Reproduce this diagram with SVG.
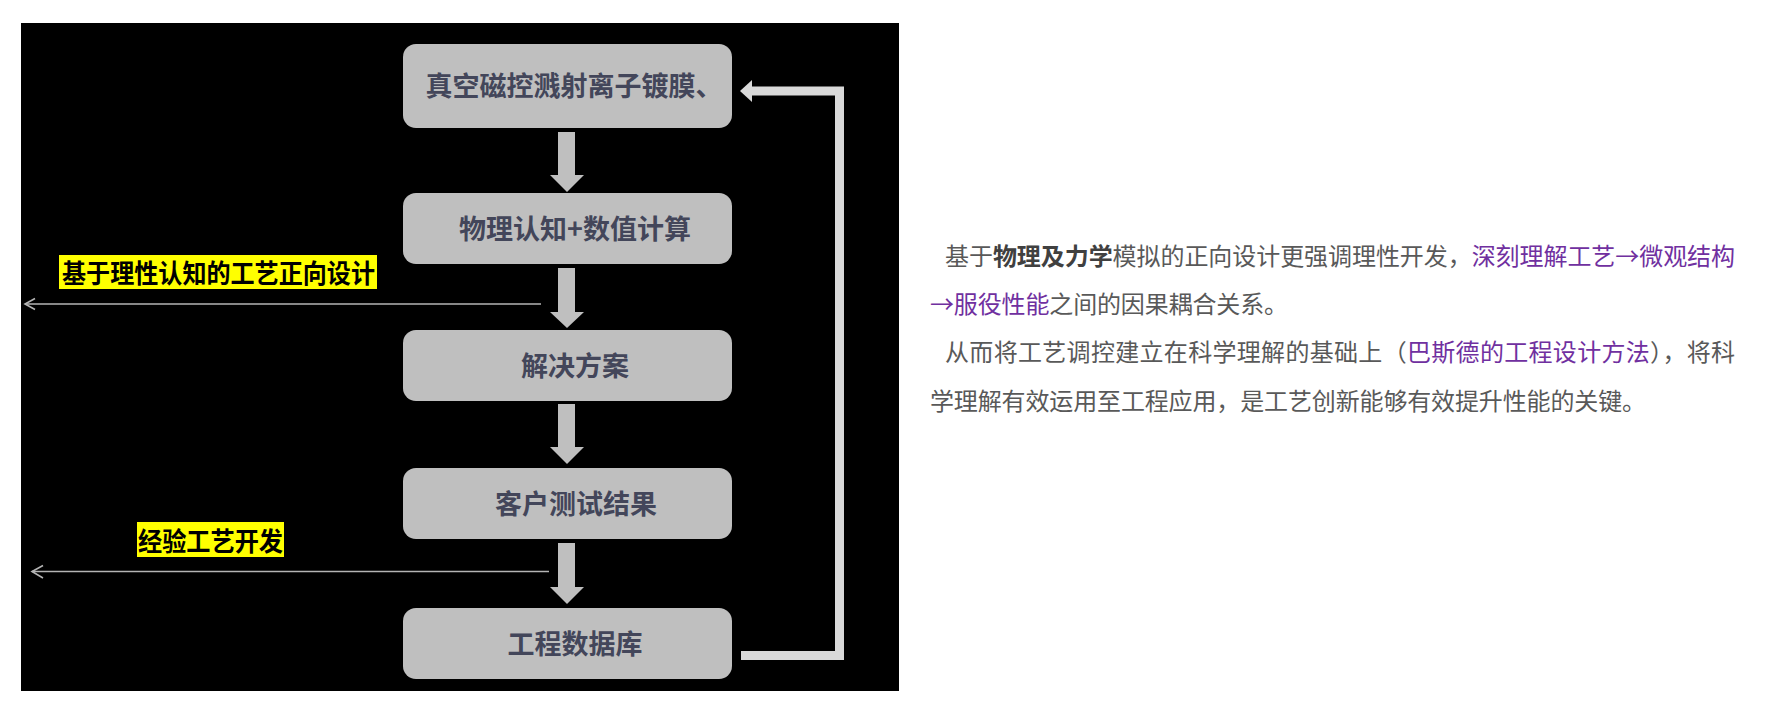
<svg xmlns="http://www.w3.org/2000/svg" width="1779" height="714" viewBox="0 0 1779 714">
<style>
.node rect{fill:#bfbfbf;}
.node text{font-family:"Noto Sans CJK SC","Noto Sans",sans-serif;font-weight:700;font-size:27px;fill:#43465a;text-anchor:middle;}
.blk{fill:#bfbfbf;}
.thin{stroke:#b4b4b4;stroke-width:1.6;fill:none;}
.loop{stroke:#d9d9d9;stroke-width:9;fill:none;stroke-linejoin:miter;}
.lab rect{fill:#ffff00;}
.lab text{font-family:"Noto Sans CJK SC","Noto Sans",sans-serif;font-weight:700;font-size:26px;fill:#000;}
.para{font-family:"Noto Sans CJK SC","Noto Sans",sans-serif;font-size:24px;fill:#595959;}
.b{font-weight:700;fill:#404040;}
.p{fill:#7030a0;}
</style>
<rect width="1779" height="714" fill="#ffffff"/>
<rect id="panel" x="21" y="23" width="878" height="668" fill="#000000"/>

<g id="connectors">
  <polygon class="blk" points="558,132 575,132 575,175 584,175 567,192 550,175 558,175"/>
  <polygon class="blk" points="558,268 575,268 575,312 584,312 567,328 550,312 558,312"/>
  <polygon class="blk" points="558,404 575,404 575,447 584,447 567,464 550,447 558,447"/>
  <polygon class="blk" points="558,543 575,543 575,587 584,587 567,604 550,587 558,587"/>
  <polyline class="loop" points="741,655.5 839.5,655.5 839.5,91 750,91"/>
  <polygon fill="#d9d9d9" points="740,91 752,80 752,102"/>
  <line class="thin" x1="541" y1="304" x2="25" y2="304"/>
  <polyline class="thin" points="35,298.5 25,304 35,309.5"/>
  <line class="thin" x1="549" y1="571.5" x2="32" y2="571.5"/>
  <polyline class="thin" points="43,565.5 32,571.5 43,578"/>
</g>

<g id="node1" class="node">
  <rect x="403" y="44" width="329" height="84" rx="13"/>
  <text x="574" y="96">真空磁控溅射离子镀膜、</text>
</g>
<g id="node2" class="node">
  <rect x="403" y="193" width="329" height="71" rx="13"/>
  <text x="575" y="239">物理认知+数值计算</text>
</g>
<g id="node3" class="node">
  <rect x="403" y="330" width="329" height="71" rx="13"/>
  <text x="575" y="376">解决方案</text>
</g>
<g id="node4" class="node">
  <rect x="403" y="468" width="329" height="71" rx="13"/>
  <text x="576" y="514">客户测试结果</text>
</g>
<g id="node5" class="node">
  <rect x="403" y="608" width="329" height="71" rx="13"/>
  <text x="575" y="654">工程数据库</text>
</g>

<g id="label1" class="lab">
  <rect x="59" y="255" width="318" height="34"/>
  <text x="62" y="283" textLength="313" lengthAdjust="spacingAndGlyphs">基于理性认知的工艺正向设计</text>
</g>
<g id="label2" class="lab">
  <rect x="137" y="522" width="147" height="35"/>
  <text x="138" y="551" textLength="145" lengthAdjust="spacingAndGlyphs">经验工艺开发</text>
</g>

<g id="description">
  <text class="para" x="945" y="265" textLength="790" lengthAdjust="spacing">基于<tspan class="b">物理及力学</tspan>模拟的正向设计更强调理性开发，<tspan class="p">深刻理解工艺→微观结构</tspan></text>
  <text class="para" x="930" y="313" textLength="358" lengthAdjust="spacing"><tspan class="p">→服役性能</tspan>之间的因果耦合关系。</text>
  <text class="para" x="945" y="361" textLength="790" lengthAdjust="spacing">从而将工艺调控建立在科学理解的基础上（<tspan class="p">巴斯德的工程设计方法</tspan>），将科</text>
  <text class="para" x="930" y="410" textLength="716" lengthAdjust="spacing">学理解有效运用至工程应用，是工艺创新能够有效提升性能的关键。</text>
</g>
</svg>
